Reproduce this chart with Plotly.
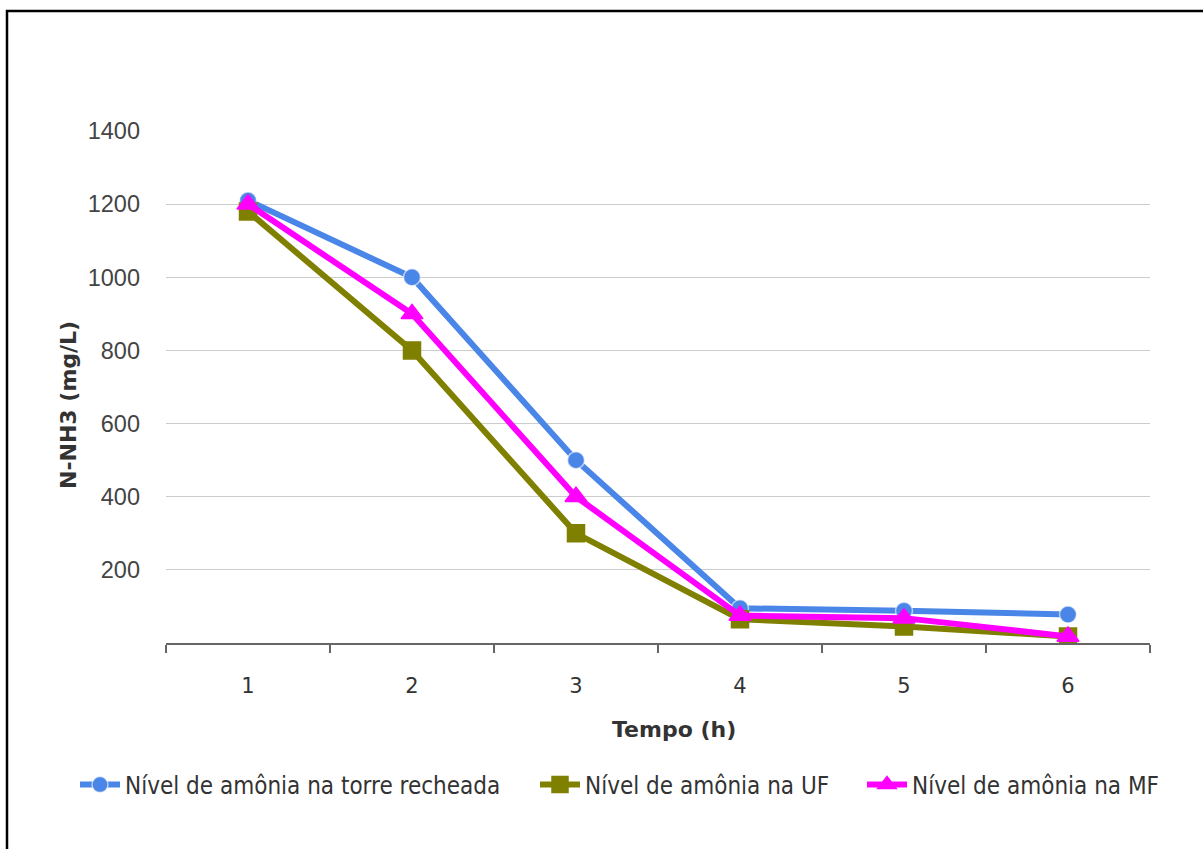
import plotly.graph_objects as go

# Tempo (h) categories
tempo = ["1", "2", "3", "4", "5", "6"]

# N-NH3 concentration (mg/L) for each treatment
torre_recheada = [1210, 1000, 500, 95, 88, 78]
uf = [1180, 800, 300, 65, 45, 18]
mf = [1200, 900, 400, 75, 68, 18]

y_ticks = [200, 400, 600, 800, 1000, 1200, 1400]

L, R, T, B = 166, 53, 131, 206
W, H = 1203, 849
pw, ph = W - L - R, H - T - B


def px_x(x):
    return (x - L) / pw


def px_y(y):
    return (H - B - y) / ph


# name, values, colour, marker, marker size, legend id, legend left edge (px)
series = [
    ("Nível de amônia na torre recheada", torre_recheada, "#4A86E8", "circle", 17, "legend", 75),
    ("Nível de amônia na UF", uf, "#808000", "square", 17, "legend2", 535),
    ("Nível de amônia na MF", mf, "#FF00FF", "triangle-up", 19, "legend3", 862),
]

legend_font = dict(family="DejaVu Sans Condensed, DejaVu Sans", size=24, color="#333333")

fig = go.Figure()
legends = {}
for name, vals, color, symbol, size, leg, left in series:
    fig.add_trace(go.Scatter(
        x=tempo, y=vals, name=name, mode="lines+markers", legend=leg,
        line=dict(color=color, width=6),
        marker=dict(symbol=symbol, size=size, color=color,
                    line=dict(color="rgba(255,255,255,0.6)" if symbol == "circle" else color, width=1.5)),
    ))
    legends[leg] = dict(orientation="h", x=px_x(left), xanchor="left", y=px_y(785), yanchor="middle",
                        font=legend_font, bgcolor="rgba(0,0,0,0)", itemwidth=40)

title_font = dict(family="DejaVu Sans", size=22, color="#333333")

fig.update_layout(
    width=W, height=H,
    margin=dict(l=L, r=R, t=T, b=B),
    paper_bgcolor="white", plot_bgcolor="white",
    font=dict(family="Liberation Sans, Arial, sans-serif", color="#333333"),
    showlegend=True,
    **legends,
    xaxis=dict(
        type="category", tickson="boundaries", ticks="outside", ticklen=8,
        tickcolor="#666666", tickwidth=1.5, showgrid=False, showline=True,
        linecolor="#666666", linewidth=1.5, ticklabelstandoff=23,
        tickfont=dict(family="DejaVu Sans", size=21, color="#333333"),
        range=[-0.5, 5.5],
    ),
    yaxis=dict(
        range=[0, 1400], tickvals=y_ticks, showgrid=True, gridcolor="#cccccc", gridwidth=1.2,
        zeroline=False, showline=False, ticks="", ticklabelstandoff=25,
        tickfont=dict(size=23.5, color="#444444"),
    ),
    annotations=[
        dict(text="<b>Tempo (h)</b>", xref="paper", yref="paper", x=px_x(674), y=px_y(729),
             xanchor="center", yanchor="middle", showarrow=False, font=title_font),
        dict(text="<b>N-NH3 (mg/L)</b>", xref="paper", yref="paper", x=px_x(68), y=px_y(405),
             xanchor="center", yanchor="middle", showarrow=False, textangle=-90, font=title_font),
    ],
    shapes=[dict(type="rect", xref="paper", yref="paper",
                 x0=px_x(7), x1=px_x(W + 5),
                 y0=px_y(H + 5), y1=px_y(11),
                 line=dict(color="black", width=2.5), fillcolor="rgba(0,0,0,0)", layer="above")],
)

fig.write_html("out.html")
